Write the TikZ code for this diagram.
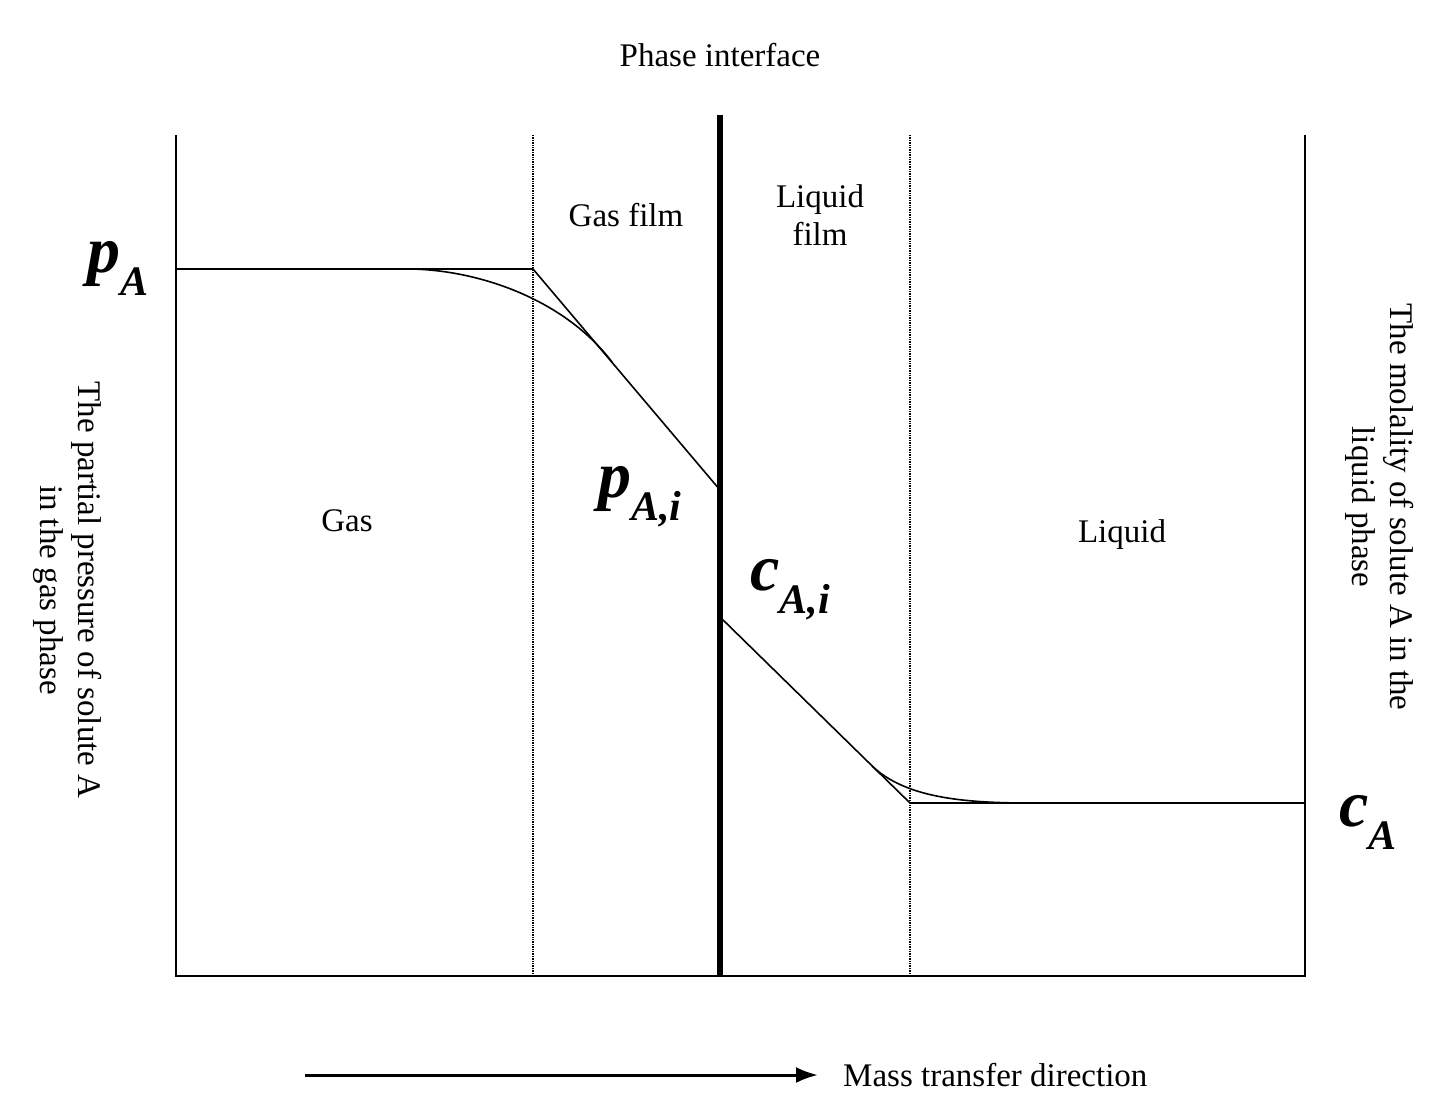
\documentclass[tikz,border=0pt]{standalone}
\usepackage{fontspec}
\usetikzlibrary{arrows.meta}
\setmainfont{Liberation Serif}
\begin{document}
\begin{tikzpicture}[x=1pt,y=-1pt,
  lbl/.style={font=\fontsize{33}{38}\selectfont,align=center,inner sep=0},
  big/.style={font=\fontsize{66}{66}\selectfont\bfseries\itshape,inner sep=0},
  thin/.style={line width=1.6pt},
  dotline/.style={line width=1.4pt,densely dotted}]
\useasboundingbox (0,0) rectangle (1451,1111);
\newcommand{\subl}[1]{\raisebox{-0.35em}{\fontsize{42}{42}\selectfont #1}}
% frame
\coordinate (tl) at (176,135); \coordinate (bl) at (176,976);
\coordinate (br) at (1305,976); \coordinate (tr) at (1305,135);
\draw[thin] (tl) -- (bl) -- (br) -- (tr);
\draw[dotline] (533,135) -- (533,976);
\draw[dotline] (910,135) -- (910,976);
\draw[line width=5.5pt] (720,115) -- (720,976);
% gas profile
\coordinate (g0) at (176,269); \coordinate (g1) at (533,269); \coordinate (g2) at (720,490);
\draw[thin] (g0) -- (g1) -- (g2);
\draw[thin] (410,269) .. controls (480,270) and (565,300) .. (612,362);
% liquid profile
\coordinate (l0) at (720,617); \coordinate (l1) at (910,803); \coordinate (l2) at (1305,803);
\draw[thin] (l0) -- (l1) -- (l2);
\draw[thin] (872,766) .. controls (905,797) and (960,803) .. (1030,803);
% labels
\node[lbl] (pi) at (720,55) {Phase interface};
\node[lbl] (gf) at (626,215) {Gas film};
\node[lbl] (lf) at (820,215) {Liquid\\film};
\node[lbl] (gas) at (347,521) {Gas};
\node[lbl] (liq) at (1122,535) {Liquid};
\node[big] (pa) at (118,268) {p\subl{A}};
\node[big] (pai) at (640,497) {p\subl{A,i}};
\node[big] (cai) at (790,590) {c\subl{A,i}};
\node[big] (ca) at (1368,822) {c\subl{A}};
\node[lbl,rotate=-90] (ly) at (68,590) {The partial pressure of solute A\\in the gas phase};
\node[lbl,rotate=-90] (ry) at (1380,507) {The molality of solute A in the\\liquid phase};
\coordinate (a0) at (305,1075);
\node[lbl,anchor=west] (mt) at (843,1075) {Mass transfer direction};
\draw[line width=3pt,-{Latex[length=22pt,width=16pt]}] (a0) -- (818,1075);
\end{tikzpicture}
\end{document}
